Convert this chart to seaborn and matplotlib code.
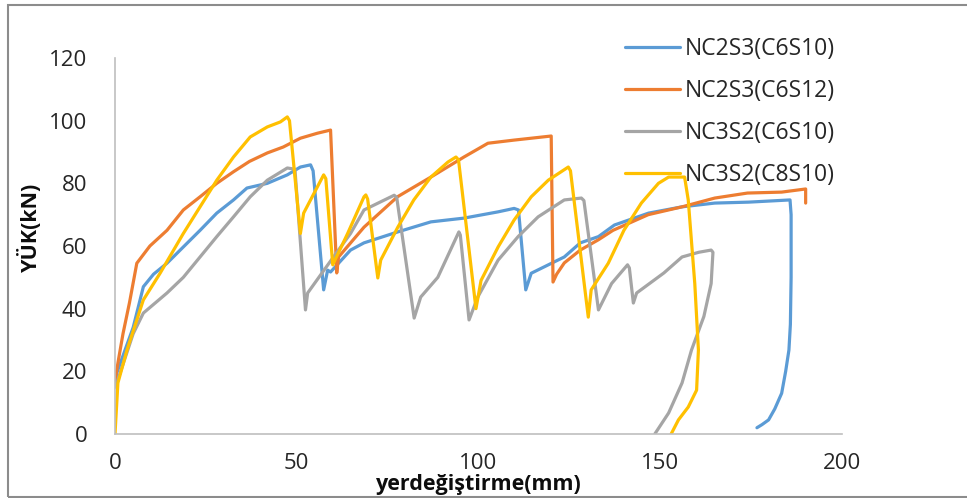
import matplotlib
matplotlib.use("Agg")
import matplotlib.pyplot as plt
from matplotlib.patches import Rectangle
import numpy as np
import pandas as pd
import seaborn as sns

# Load–displacement curves (displacement in mm, load in kN)
nc2s3_c6s10_x = [0, 0.5, 5, 7.8, 10.6, 14.3, 18.8, 23.4, 28, 32.6, 36.3, 41.9, 47.4, 51, 53.8, 54.5,
                 57.4, 58.5, 59.3, 64.8, 68.5, 77.8, 86.9, 96, 105.4, 109.8, 111,
                 113, 114.5, 123.6, 128, 133, 137.4, 146.8, 156, 165, 174.3, 185.7,
                 186, 186, 185.8, 185.4, 184.5, 183.4, 181.5, 179.8, 178, 176.6]
nc2s3_c6s10_y = [15, 19.5, 34, 47, 51, 54.5, 59.7, 65, 70.5, 74.7, 78.5, 80, 82.7, 85.2, 85.9, 84,
                 46, 52.3, 51.7, 58.7, 61, 64.5, 67.7, 68.9, 70.9, 72, 71.5,
                 46, 51.3, 56.5, 61, 63, 66.7, 70.5, 72.5, 73.7, 74, 74.7,
                 70, 50, 35, 26.8, 20, 13, 8, 4.5, 3, 2]

nc2s3_c6s12_x = [0, 1, 2.2, 4, 6, 9.6, 14.3, 18.8, 23.4, 28, 32.6, 37, 41.9, 46.3, 51, 55.7, 59.3,
                 61, 61.5, 68.5, 77.7, 86.9, 96, 102.6, 109.8, 120,
                 120.5, 121.5, 123.6, 128, 133, 137, 146.7, 156, 165, 174, 183.4, 190, 190]
nc2s3_c6s12_y = [17, 24, 32, 42, 54.5, 60, 65, 71.5, 75.7, 80, 83.7, 87, 89.7, 91.6, 94.4, 96, 97,
                 51.4, 56.5, 66, 75.7, 82, 88.4, 92.8, 93.8, 95.1,
                 48.5, 51, 54.6, 58.7, 62, 65, 70, 72.5, 75.3, 76.9, 77.2, 78.2, 73.7]

nc3s2_c6s10_x = [0, 0.5, 5, 7.8, 14.3, 18.8, 23.4, 28, 32.6, 37.2, 41.9, 47.4, 49.5,
                 52.4, 53, 60.1, 64.8, 68.5, 76.8, 77.5,
                 82.3, 84.1, 88.8, 94.6, 95,
                 97.4, 99.8, 105.4, 110.9, 116.4, 123.6, 128.3, 129,
                 133, 136.6, 141, 141.5,
                 142.6, 143.5, 151, 156, 160.6, 164, 164.5,
                 164, 162, 158.6, 156, 152.3, 148.5]
nc3s2_c6s10_y = [15, 16.3, 32, 38.6, 45, 50, 56.5, 63, 69.3, 75.7, 81, 84.9, 84.5,
                 39.6, 45, 56.5, 64, 71.5, 76.2, 75.5,
                 37, 43.7, 50, 64.5, 63.5,
                 36.4, 43.7, 55.5, 63, 69.3, 74.7, 75.3, 74.5,
                 39.6, 48, 54, 53,
                 41.8, 45, 51.4, 56.5, 58, 58.7, 58,
                 48, 37.5, 26.8, 16.3, 6.7, 0]

nc3s2_c8s10_x = [0, 0.8, 3.3, 7.8, 12.4, 18.8, 23.4, 28, 32.6, 37.2, 41.9, 45.5, 47.4, 48,
                 51, 51.9, 57.4, 58,
                 59.9, 64, 68.5, 69, 69.5,
                 72.3, 73.1, 77.8, 82.2, 86.9, 91.6, 93.8, 94.5,
                 99.3, 100.7, 105.4, 109.8, 114.5, 119.2, 124.7, 125.3,
                 130.2, 131, 135.7, 140, 144.8, 149.5, 152.3, 156.7,
                 157.7, 159.5, 160.5, 160, 157.7, 155, 153]
nc3s2_c8s10_y = [0, 16.3, 26.8, 42.8, 51.3, 64, 72.5, 81, 88.4, 94.8, 98, 99.6, 101.2, 100,
                 64, 70.5, 82.7, 81.5,
                 54, 64, 75.7, 76.3, 75,
                 49.8, 55.5, 66, 74.7, 82, 86.8, 88.4, 87.5,
                 40, 49, 59.7, 68.3, 75.7, 81, 85.2, 84,
                 37.3, 46, 54.5, 65, 73.7, 80, 82, 82,
                 74.7, 48, 26.8, 14, 8.6, 4.5, 0]

series_names = ["NC2S3(C6S10)", "NC2S3(C6S12)", "NC3S2(C6S10)", "NC3S2(C8S10)"]
series_colors = ["#5B9BD5", "#ED7D31", "#A5A5A5", "#FFC000"]

x_ticks = [0, 50, 100, 150, 200]
y_ticks = [0, 20, 40, 60, 80, 100, 120]

frames = []
for name, xs, ys in zip(series_names,
                        [nc2s3_c6s10_x, nc2s3_c6s12_x, nc3s2_c6s10_x, nc3s2_c8s10_x],
                        [nc2s3_c6s10_y, nc2s3_c6s12_y, nc3s2_c6s10_y, nc3s2_c8s10_y]):
    frames.append(pd.DataFrame({"disp": xs, "load": ys, "seri": name}))
df = pd.concat(frames, ignore_index=True)

sns.set_theme(style="white")
plt.rcParams["font.family"] = ["Open Sans", "DejaVu Sans"]

fig = plt.figure(figsize=(9.67, 4.98), dpi=100)
ax = fig.add_axes([115 / 967, 1 - 434 / 498, (842 - 115) / 967, (434 - 58) / 498])

sns.lineplot(data=df, x="disp", y="load", hue="seri", hue_order=series_names,
             palette=series_colors, sort=False, estimator=None, units="seri",
             linewidth=2.3, ax=ax)

ax.set_xlim(0, 200)
ax.set_ylim(0, 120)
ax.set_xticks(x_ticks)
ax.set_yticks(y_ticks)
ax.tick_params(axis="both", length=0, labelsize=16, colors="#262626")
ax.tick_params(axis="y", pad=20)
ax.tick_params(axis="x", pad=14)

for side in ["top", "right"]:
    ax.spines[side].set_visible(False)
for side in ["left", "bottom"]:
    ax.spines[side].set_color("#BFBFBF")
    ax.spines[side].set_linewidth(1.2)

ax.set_xlabel("yerdeğiştirme(mm)", fontsize=15.5, fontweight="bold", color="#0d0d0d")
ax.set_ylabel("YÜK(kN)", fontsize=15.5, fontweight="bold", color="#0d0d0d")
ax.xaxis.label.set_verticalalignment("center")
ax.xaxis.set_label_coords(0.5, -0.133)
ax.yaxis.label.set_verticalalignment("center")
ax.yaxis.set_label_coords(-0.117, 0.55)

old = ax.get_legend()
handles = old.legend_handles
labels = [t.get_text() for t in old.texts]
old.remove()
for h in handles:
    h.set_linewidth(2.3)
fig.legend(handles, labels, loc="upper left", bbox_to_anchor=(625 / 967, 1 - 37 / 498),
           bbox_transform=fig.transFigure, frameon=False, fontsize=16.5,
           handlelength=2.4, handletextpad=0.22, labelspacing=0.78, borderpad=0,
           borderaxespad=0, labelcolor="#262626")

# chart frame
fig.patches.append(Rectangle((8 / 967, 1 / 498), 1.2, 1 - 6 / 498, transform=fig.transFigure,
                             fill=False, edgecolor="#8C8C8C", linewidth=1.5, clip_on=False))

fig.savefig("out.png", dpi=100)
